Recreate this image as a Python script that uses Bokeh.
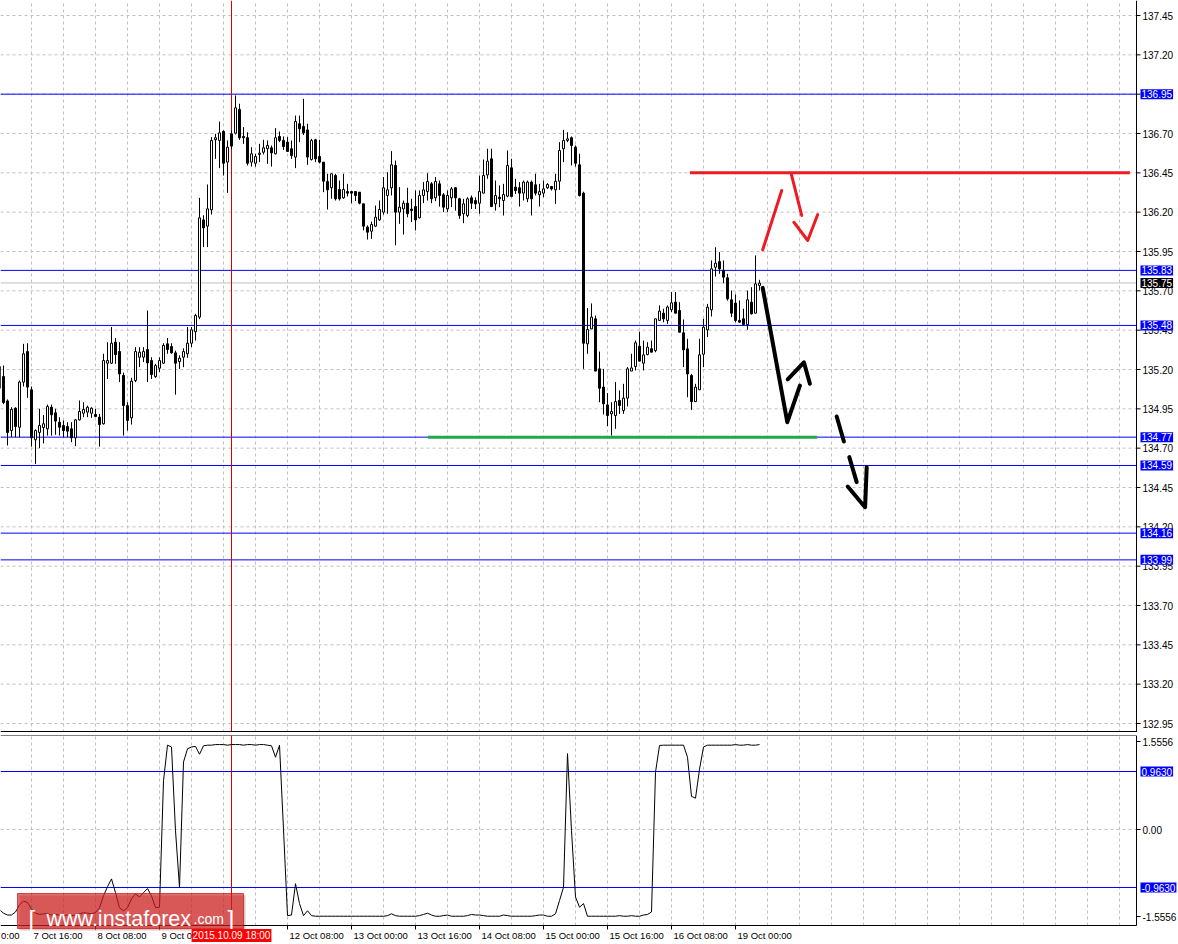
from bokeh.plotting import figure
from bokeh.layouts import column
from bokeh.models import ColumnDataSource, Label, Range1d
from bokeh.core.properties import value
from bokeh.embed import file_html
from bokeh.resources import INLINE

FONT = "Liberation Sans"

# ---------------- data (H1 bars, index 0 = 7 Oct 08:00) ----------------
bar_open = [
    135.22, 135.155, 135.00, 134.812, 134.954, 134.833, 135.12, 135.314, 135.071, 134.753,
    134.80, 134.831, 134.823, 134.96, 134.925, 134.865, 134.844, 134.838, 134.823, 134.766,
    134.88, 134.922, 134.929, 134.922, 134.914, 134.897, 134.855, 135.24, 135.24, 135.374,
    135.314, 135.162, 134.971, 134.893, 135.13, 135.278, 135.278, 135.327, 135.257, 135.155,
    135.208, 135.24, 135.363, 135.346, 135.306, 135.25, 135.278, 135.30, 135.367, 135.44,
    135.533, 136.151, 136.111, 136.215, 136.66, 136.656, 136.713, 136.518, 136.698, 136.702,
    136.853, 136.681, 136.673, 136.518, 136.511, 136.567, 136.581, 136.603, 136.609, 136.571,
    136.681, 136.656, 136.645, 136.603, 136.55, 136.762, 136.745, 136.723, 136.535, 136.66,
    136.554, 136.518, 136.395, 136.355, 136.433, 136.344, 136.291, 136.331, 136.331, 136.331,
    136.327, 136.253, 136.105, 136.079, 136.111, 136.151, 136.20, 136.306, 136.355, 136.497,
    136.20, 136.221, 136.257, 136.22, 136.236, 136.164, 136.306, 136.331, 136.38, 136.291,
    136.38, 136.31, 136.221, 136.291, 136.355, 136.285, 136.19, 136.179, 136.291, 136.274,
    136.257, 136.321, 136.437, 136.539, 136.253, 136.295, 136.274, 136.302, 136.482, 136.359,
    136.355, 136.321, 136.285, 136.391, 136.374, 136.31, 136.321, 136.355, 136.363, 136.342,
    136.397, 136.603, 136.656, 136.673, 136.613, 136.501, 136.321, 135.363, 135.458, 135.522,
    135.204, 135.088, 134.975, 134.918, 134.907, 135.003, 134.939, 135.018, 135.19, 135.219,
    135.348, 135.24, 135.295, 135.332, 135.32, 135.512, 135.558, 135.512, 135.58, 135.628,
    135.575, 135.433, 135.331, 135.162, 134.996, 135.071, 135.297, 135.452, 135.579, 135.85,
    135.886, 135.829, 135.783, 135.643, 135.622, 135.512, 135.522, 135.486, 135.628, 135.558,
    135.734,
]
bar_high = [
    135.26, 135.225, 135.01, 134.96, 134.96, 135.13, 135.363, 135.367, 135.092, 134.82,
    134.95, 134.91, 134.977, 134.977, 134.95, 134.897, 134.876, 134.865, 134.865, 134.886,
    135.003, 134.992, 134.97, 134.96, 134.95, 134.918, 135.30, 135.373, 135.47, 135.40,
    135.374, 135.18, 134.992, 135.147, 135.342, 135.342, 135.342, 135.575, 135.278, 135.236,
    135.278, 135.367, 135.40, 135.367, 135.32, 135.29, 135.335, 135.47, 135.47, 135.554,
    136.291, 136.18, 136.376, 136.677, 136.698, 136.776, 136.72, 136.656, 136.72, 136.942,
    136.889, 136.74, 136.708, 136.613, 136.571, 136.634, 136.66, 136.656, 136.624, 136.734,
    136.713, 136.681, 136.677, 136.656, 136.814, 136.814, 136.92, 136.762, 136.666, 136.666,
    136.66, 136.518, 136.444, 136.444, 136.444, 136.401, 136.444, 136.38, 136.331, 136.331,
    136.327, 136.253, 136.116, 136.14, 136.242, 136.274, 136.423, 136.454, 136.588, 136.528,
    136.359, 136.274, 136.355, 136.285, 136.338, 136.338, 136.391, 136.448, 136.391, 136.423,
    136.401, 136.321, 136.338, 136.359, 136.359, 136.291, 136.285, 136.295, 136.306, 136.295,
    136.433, 136.535, 136.603, 136.603, 136.401, 136.37, 136.38, 136.592, 136.539, 136.412,
    136.391, 136.401, 136.401, 136.401, 136.444, 136.38, 136.401, 136.384, 136.363, 136.444,
    136.645, 136.723, 136.708, 136.681, 136.624, 136.571, 136.33, 135.59, 135.62, 135.543,
    135.314, 135.204, 135.05, 134.992, 135.12, 135.067, 135.109, 135.215, 135.30, 135.384,
    135.441, 135.384, 135.374, 135.384, 135.522, 135.607, 135.586, 135.607, 135.692, 135.692,
    135.628, 135.518, 135.395, 135.172, 135.109, 135.395, 135.522, 135.617, 135.893, 135.977,
    135.946, 135.893, 135.808, 135.702, 135.677, 135.639, 135.586, 135.702, 135.723, 135.925,
    135.77,
]
bar_low = [
    135.02, 134.98, 134.717, 134.77, 134.77, 134.77, 135.092, 135.02, 134.71, 134.60,
    134.70, 134.73, 134.78, 134.78, 134.785, 134.78, 134.77, 134.77, 134.738, 134.713,
    134.876, 134.897, 134.897, 134.893, 134.897, 134.71, 134.85, 135.14, 135.236, 135.236,
    135.12, 134.78, 134.812, 134.85, 135.12, 135.215, 135.247, 135.12, 135.14, 135.147,
    135.183, 135.236, 135.30, 135.30, 135.04, 135.204, 135.215, 135.274, 135.342, 135.384,
    135.52, 135.978, 135.978, 136.185, 136.539, 136.48, 136.433, 136.323, 136.60, 136.694,
    136.66, 136.634, 136.497, 136.49, 136.49, 136.518, 136.567, 136.507, 136.49, 136.567,
    136.645, 136.596, 136.583, 136.539, 136.48, 136.645, 136.69, 136.501, 136.528, 136.518,
    136.51, 136.327, 136.217, 136.285, 136.274, 136.274, 136.285, 136.30, 136.257, 136.27,
    136.25, 136.084, 136.026, 136.03, 136.105, 136.145, 136.185, 136.19, 136.306, 135.99,
    136.126, 136.058, 136.168, 136.137, 136.084, 136.16, 136.257, 136.274, 136.257, 136.27,
    136.236, 136.2, 136.2, 136.232, 136.21, 136.158, 136.13, 136.168, 136.22, 136.22,
    136.19, 136.321, 136.412, 136.232, 136.21, 136.232, 136.179, 136.295, 136.295, 136.316,
    136.236, 136.274, 136.264, 136.179, 136.306, 136.236, 136.295, 136.348, 136.338, 136.253,
    136.342, 136.518, 136.645, 136.497, 136.49, 136.3, 135.204, 135.30, 135.458, 135.19,
    134.992, 134.914, 134.84, 134.78, 134.823, 134.918, 134.918, 134.965, 135.19, 135.194,
    135.253, 135.194, 135.29, 135.31, 135.31, 135.512, 135.5, 135.49, 135.565, 135.558,
    135.437, 135.215, 135.024, 134.943, 134.996, 135.071, 135.215, 135.406, 135.537, 135.791,
    135.808, 135.749, 135.638, 135.533, 135.501, 135.497, 135.48, 135.452, 135.549, 135.558,
    135.702,
]
bar_close = [
    135.08, 134.99, 134.80, 134.946, 134.838, 135.12, 135.30, 135.088, 134.766, 134.812,
    134.844, 134.855, 134.965, 134.912, 134.872, 134.833, 134.812, 134.808, 134.766, 134.88,
    134.933, 134.946, 134.96, 134.954, 134.901, 134.85, 135.257, 135.257, 135.367, 135.295,
    135.172, 134.971, 134.876, 135.126, 135.314, 135.31, 135.314, 135.242, 135.168, 135.225,
    135.257, 135.353, 135.327, 135.306, 135.24, 135.272, 135.314, 135.367, 135.452, 135.543,
    136.164, 136.10, 136.221, 136.656, 136.673, 136.704, 136.511, 136.613, 136.62, 136.863,
    136.673, 136.673, 136.511, 136.571, 136.554, 136.575, 136.609, 136.624, 136.577, 136.673,
    136.656, 136.617, 136.586, 136.56, 136.776, 136.73, 136.704, 136.55, 136.656, 136.539,
    136.518, 136.397, 136.342, 136.444, 136.285, 136.285, 136.344, 136.321, 136.321, 136.306,
    136.257, 136.111, 136.073, 136.122, 136.168, 136.217, 136.355, 136.342, 136.501, 136.20,
    136.232, 136.257, 136.19, 136.21, 136.151, 136.306, 136.342, 136.395, 136.285, 136.395,
    136.306, 136.232, 136.306, 136.348, 136.291, 136.179, 136.253, 136.285, 136.257, 136.253,
    136.331, 136.433, 136.524, 136.236, 136.306, 136.285, 136.312, 136.497, 136.3, 136.338,
    136.321, 136.391, 136.391, 136.285, 136.321, 136.331, 136.348, 136.376, 136.348, 136.397,
    136.592, 136.656, 136.666, 136.624, 136.511, 136.306, 135.367, 135.454, 135.533, 135.19,
    135.081, 134.982, 134.907, 134.933, 134.996, 134.971, 135.018, 135.204, 135.21, 135.37,
    135.253, 135.293, 135.342, 135.31, 135.522, 135.571, 135.522, 135.597, 135.624, 135.558,
    135.437, 135.325, 135.172, 134.996, 135.088, 135.293, 135.469, 135.596, 135.84, 135.876,
    135.84, 135.787, 135.649, 135.558, 135.512, 135.501, 135.486, 135.643, 135.554, 135.744,
    135.749,
]
indicator = [
    -1.33, -1.39, -1.42, -1.42, -1.37, -1.25, -1.19, -1.21, -1.32, -1.39,
    -1.41, -1.40, -1.40, -1.42, -1.41, -1.42, -1.43, -1.42, -1.43, -1.42,
    -1.40, -1.38, -1.39, -1.40, -1.38, -1.30, -1.10, -0.95, -0.82, -1.05,
    -1.30, -1.35, -1.30, -1.15, -1.07, -1.12, -1.05, -0.98, -1.10, -1.30,
    -1.29, 0.81, 1.40, 1.37, -0.02, -0.96, 1.12, 1.34, 1.37, 1.38,
    1.25, 1.39, 1.40, 1.40, 1.41, 1.41, 1.41, 1.40, 1.41, 1.41,
    1.41, 1.40, 1.41, 1.41, 1.40, 1.41, 1.41, 1.40, 1.39, 1.20,
    1.40, 0.00, -1.43, -1.42, -0.90, -1.23, -1.43, -1.35, -1.43, -1.44,
    -1.44, -1.44, -1.44, -1.44, -1.44, -1.44, -1.44, -1.44, -1.44, -1.44,
    -1.44, -1.44, -1.44, -1.44, -1.44, -1.44, -1.44, -1.43, -1.40, -1.43,
    -1.44, -1.44, -1.44, -1.44, -1.44, -1.43, -1.41, -1.39, -1.42, -1.44,
    -1.44, -1.43, -1.42, -1.44, -1.44, -1.44, -1.44, -1.43, -1.41, -1.42,
    -1.42, -1.43, -1.44, -1.44, -1.44, -1.44, -1.42, -1.43, -1.44, -1.44,
    -1.44, -1.44, -1.44, -1.44, -1.43, -1.42, -1.42, -1.44, -1.44, -1.40,
    -1.18, -0.96, 1.26, -0.02, -1.12, -1.29, -1.23, -1.44, -1.44, -1.44,
    -1.44, -1.44, -1.44, -1.44, -1.44, -1.43, -1.44, -1.44, -1.43, -1.44,
    -1.44, -1.42, -1.41, -1.37, 0.95, 1.395, 1.40, 1.40, 1.40, 1.40,
    1.40, 1.40, 1.20, 0.55, 0.52, 1.00, 1.37, 1.40, 1.40, 1.40,
    1.40, 1.40, 1.40, 1.40, 1.41, 1.40, 1.40, 1.41, 1.40, 1.40,
    1.41,
]

time_labels = {8: "7 Oct 16:00", 24: "8 Oct 08:00", 40: "9 Oct 00:00",
               72: "12 Oct 08:00", 88: "13 Oct 00:00", 104: "13 Oct 16:00",
               120: "14 Oct 08:00", 136: "15 Oct 00:00", 152: "15 Oct 16:00",
               168: "16 Oct 08:00", 184: "19 Oct 00:00"}
edge_label = "0:00"            # tail of the "7 Oct 00:00" label at the left edge
grid_bars = list(range(0, 288, 8))
cursor_bar = 58
cursor_text = "2015.10.09 18:00"

price_ticks = [132.95, 133.20, 133.45, 133.70, 133.95, 134.20, 134.45, 134.70,
               134.95, 135.20, 135.45, 135.70, 135.95, 136.20, 136.45, 136.70,
               136.95, 137.20, 137.45]
price_levels = [136.95, 135.83, 135.48, 134.77, 134.59, 134.16, 133.99]
bid_price = 135.75
ind_levels = [0.963, -0.963]
ind_labels = ["1.5556", "0.00", "-1.5556"]

resistance_x = [172.6, 282.6]
resistance_y = [136.45, 136.45]
support_x = [107.1, 204.4]
support_y = [134.77, 134.77]
red_xs = [[190.8, 195.55], [197.9, 200.55], [198.6, 202.05, 204.55]]
red_ys = [[135.961, 136.338], [136.446, 136.179], [136.136, 136.02, 136.185]]
black_xs = [[190.8, 196.95, 200.1], [197.05, 201.1, 202.6], [209.3, 211.1],
            [212.45, 214.3], [212.05, 216.4, 216.8]]
black_ys = [[135.719, 134.865, 135.098], [135.137, 135.246, 135.109],
            [134.901, 134.742], [134.643, 134.484], [134.456, 134.325, 134.579]]

# ---------------- layout (pixel geometry) ----------------
W = 1178
PX = 4.0                       # px per bar
X0 = 0.25
X1 = X0 + W / PX
AX = X0 + 1136 / PX            # price-scale border
MAIN_H = 732
S = 708 / 4.5                  # px per price unit
Y1 = 137.45 + 15 / S
Y0 = Y1 - MAIN_H / S
IND_H = 208
SI = 116 / 1.926               # px per indicator unit
I1 = 94 / SI
I0 = I1 - IND_H / SI
GRID = "#c0c0c0"
BLUE = "#0000ff"


def py(px_row):                 # main panel: screen row -> price
    return Y1 - px_row / S


def iy(px_row):                 # indicator: page row -> value
    return I1 - (px_row - 735) / SI


def bx(px_col):                 # screen column -> bar coordinate
    return X0 + px_col / PX


idx = list(range(len(bar_open)))
src = ColumnDataSource(dict(
    x=idx, high=bar_high, low=bar_low,
    top=[max(o, c) for o, c in zip(bar_open, bar_close)],
    bottom=[min(o, c) for o, c in zip(bar_open, bar_close)],
    fill=["white" if c >= o else "black" for o, c in zip(bar_open, bar_close)],
))

xr = Range1d(X0, X1)


def base_fig(h, yr, top=0):
    f = figure(frame_width=W, frame_height=h, x_range=xr, y_range=yr,
               x_axis_location=None, y_axis_location=None,
               output_backend="svg", toolbar_location=None, min_border=0,
               min_border_top=top, outline_line_color=None,
               background_fill_color="white", border_fill_color="white")
    f.xgrid.visible = False
    f.ygrid.visible = False
    return f


# ---------------- price panel ----------------
p = base_fig(MAIN_H, Range1d(Y0, Y1))
p.segment(x0=grid_bars, y0=Y0, x1=grid_bars, y1=Y1, line_color=GRID, line_dash="3 3")
p.segment(x0=X0, y0=price_ticks, x1=AX, y1=price_ticks, line_color=GRID, line_dash="3 3")
p.segment(x0=X0, y0=price_levels, x1=AX, y1=price_levels, line_color=BLUE, line_width=1)
p.segment(x0=X0, y0=bid_price, x1=AX, y1=bid_price, line_color="#c0c0c0", line_width=1)
p.segment(x0=cursor_bar, y0=Y0, x1=cursor_bar, y1=Y1, line_color="#dc0000", line_width=1)

p.segment(x0="x", y0="low", x1="x", y1="high", source=src, line_color="black", line_width=1)
p.vbar(x="x", width=0.5, top="top", bottom="bottom", source=src,
       fill_color="fill", line_color="black", line_width=1)

p.line(resistance_x, resistance_y, line_color="#ed1c24", line_width=3)
p.line(support_x, support_y, line_color="#22a845", line_width=3)
p.multi_line(red_xs, red_ys, line_color="#ed1c24", line_width=3,
             line_cap="round", line_join="round")
p.multi_line(black_xs, black_ys, line_color="black", line_width=4,
             line_cap="round", line_join="round")

# price scale
p.segment(x0=AX, y0=Y0, x1=AX, y1=Y1, line_color="black", line_width=1)
p.segment(x0=X0, y0=py(731), x1=AX, y1=py(731), line_color="black", line_width=1)
p.segment(x0=AX, y0=price_ticks, x1=AX + 1, y1=price_ticks, line_color="black")
p.text(x=AX + 1.5, y=price_ticks, text=[f"{t:.2f}" for t in price_ticks],
       text_font=value(FONT), text_font_size="10px", text_color="black",
       text_align="left", text_baseline="middle")
for lv in price_levels:
    p.add_layout(Label(x=bx(1140), y=lv, text=f"{lv:.2f}", text_color="white",
                       text_font=FONT, text_font_size="10px", text_align="left",
                       text_baseline="middle", background_fill_color=BLUE, padding=1))
p.add_layout(Label(x=bx(1140), y=bid_price, text=f"{bid_price:.2f}", text_color="white",
                   text_font=FONT, text_font_size="10px", text_align="left",
                   text_baseline="middle", background_fill_color="black", padding=1))

# ---------------- indicator panel ----------------
q = base_fig(IND_H, Range1d(I0, I1), top=3)
IB = iy(925)
q.segment(x0=grid_bars, y0=IB, x1=grid_bars, y1=I1, line_color=GRID, line_dash="3 3")
q.segment(x0=X0, y0=0, x1=AX, y1=0, line_color=GRID, line_dash="3 3")
q.segment(x0=X0, y0=ind_levels, x1=AX, y1=ind_levels, line_color=BLUE, line_width=1)
q.segment(x0=cursor_bar, y0=IB, x1=cursor_bar, y1=I1, line_color="#dc0000", line_width=1)
q.line(idx, indicator, line_color="black", line_width=1)

q.segment(x0=X0, y0=iy(735), x1=AX, y1=iy(735), line_color="black")
q.segment(x0=X0, y0=IB, x1=AX, y1=IB, line_color="black")
q.segment(x0=AX, y0=IB, x1=AX, y1=I1, line_color="black")
lab_pos = [iy(741), 0.0, iy(916)]
q.segment(x0=AX, y0=lab_pos, x1=AX + 1, y1=lab_pos, line_color="black")
q.text(x=AX + 1.5, y=lab_pos, text=ind_labels, text_font=value(FONT),
       text_font_size="10px", text_color="black", text_align="left",
       text_baseline="middle")

tb = list(time_labels)
q.segment(x0=tb, y0=IB, x1=tb, y1=iy(929), line_color="black")
q.text(x=[b + 0.5 for b in tb], y=iy(935), text=[time_labels[b] for b in tb],
       text_font=value(FONT), text_font_size="9.5px", text_color="black",
       text_align="left", text_baseline="middle")
q.text(x=[bx(0.5)], y=iy(935), text=[edge_label], text_font=value(FONT),
       text_font_size="9.5px", text_color="black", text_align="left",
       text_baseline="middle")

for lv in ind_levels:
    q.add_layout(Label(x=bx(1140), y=lv, text=f"{lv:.4f}", text_color="white",
                       text_font=FONT, text_font_size="10px", text_align="left",
                       text_baseline="middle", background_fill_color=BLUE, padding=1))

# watermark
q.quad(left=bx(19), right=bx(245), top=iy(895), bottom=iy(930),
       fill_color="#8a1010", fill_alpha=0.25, line_color=None)
q.quad(left=bx(17), right=bx(243), top=iy(893), bottom=iy(928),
       fill_color="#d21e1e", fill_alpha=0.65, line_color="#c01818", line_alpha=0.7)
for txt, cx, size in (("[", 28, "24px"), ("www.instaforex", 46, "21.5px"),
                      (".com", 193, "14px"), ("]", 227, "24px")):
    q.add_layout(Label(x=bx(cx), y=iy(918), text=txt, text_color="white",
                       text_font=FONT, text_font_size=size,
                       text_align="left", text_baseline="alphabetic"))

q.add_layout(Label(x=cursor_bar, y=iy(935), text=cursor_text, text_color="white",
                   text_font=FONT, text_font_size="10px", text_align="center",
                   text_baseline="middle", background_fill_color="#ff0000", padding=1))

layout = column(p, q)
open("out.html", "w").write(file_html(layout, INLINE))
